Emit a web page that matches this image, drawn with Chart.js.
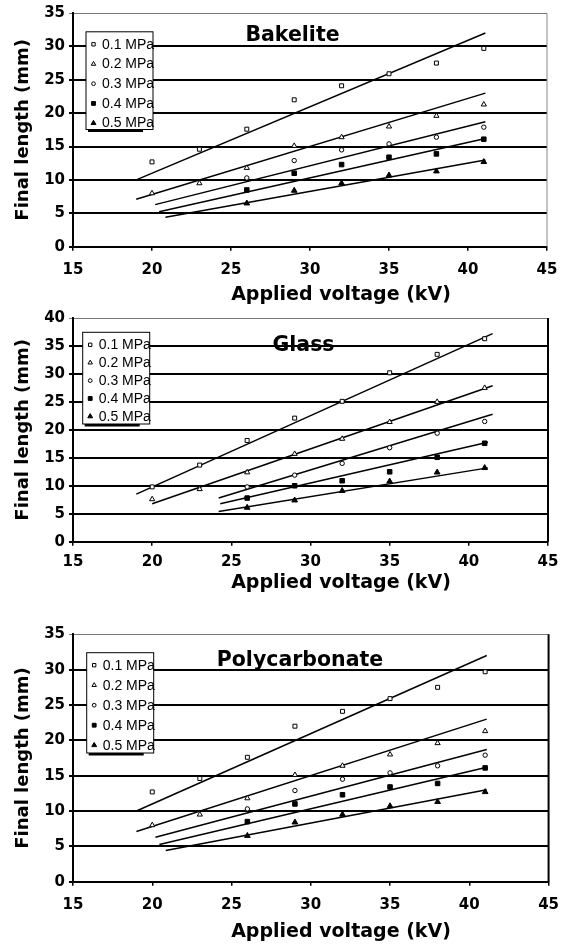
<!DOCTYPE html>
<html>
<head>
<meta charset="utf-8">
<script src="https://cdn.jsdelivr.net/npm/chart.js@4.4.1/dist/chart.umd.min.js"></script>
<style>
  html, body { margin: 0; padding: 0; background: #fff; }
  .box { position: absolute; left: 0; width: 569px; }
</style>
</head>
<body>
<div class="box" style="top:0;height:305px"><canvas id="bakelite"></canvas></div>
<div class="box" style="top:305px;height:295px"><canvas id="glass"></canvas></div>
<div class="box" style="top:610px;height:335px"><canvas id="poly"></canvas></div>
<script>
// voltages (kV)
const voltsAll = [20, 23, 26, 29, 32, 35, 38, 41];
const voltsHigh = [26, 29, 32, 35, 38, 41];
const pressureLabels = ['0.1 MPa', '0.2 MPa', '0.3 MPa', '0.4 MPa', '0.5 MPa'];

// Bakelite final length (mm)
const bake01 = [12.7, 14.6, 17.6, 22.0, 24.1, 25.9, 27.5, 29.7];
const bake02 = [8.0, 9.5, 11.8, 15.1, 16.4, 18.0, 19.6, 21.3];
const bake03 = [10.3, 12.9, 14.5, 15.4, 16.4, 17.9];
const bake04 = [8.5, 11.0, 12.3, 13.4, 13.9, 16.1];
const bake05 = [6.5, 8.4, 9.5, 10.7, 11.3, 12.7];
const bakeTrendX = [[19, 41.1], [19, 41.1], [20.2, 41.1], [20.45, 41.1], [20.85, 41.1]];
const bakeTrendY = [[10.0, 32.0], [7.1, 23.0], [6.3, 18.7], [5.25, 16.2], [4.4, 13.0]];

// Glass final length (mm)
const glass01 = [9.8, 13.7, 18.1, 22.1, 25.1, 30.2, 33.5, 36.3];
const glass02 = [7.6, 9.4, 12.4, 15.7, 18.4, 21.4, 25.0, 27.5];
const glass03 = [9.8, 11.9, 14.0, 16.8, 19.4, 21.5];
const glass04 = [7.8, 10.0, 10.9, 12.5, 15.1, 17.6];
const glass05 = [6.1, 7.4, 9.1, 10.8, 12.4, 13.2];
const glassTrendX = [[19, 41.5], [20, 41.5], [24.2, 41.5], [24.3, 41.2], [24.2, 41.2]];
const glassTrendY = [[8.5, 37.2], [6.8, 27.9], [7.8, 22.8], [6.8, 17.8], [5.4, 13.2]];

// Polycarbonate final length (mm)
const poly01 = [12.7, 14.6, 17.6, 22.0, 24.1, 25.9, 27.5, 29.7];
const poly02 = [8.0, 9.5, 11.8, 15.1, 16.4, 18.0, 19.6, 21.3];
const poly03 = [10.3, 12.9, 14.5, 15.4, 16.4, 17.9];
const poly04 = [8.5, 11.0, 12.3, 13.4, 13.9, 16.1];
const poly05 = [6.5, 8.4, 9.5, 10.7, 11.3, 12.7];
const polyTrendX = [[19, 41.1], [19, 41.1], [20.2, 41.1], [20.45, 41.1], [20.85, 41.1]];
const polyTrendY = [[10.0, 32.0], [7.1, 23.0], [6.3, 18.7], [5.25, 16.2], [4.4, 13.0]];

const xTicks = { min: 15, max: 45, step: 5 };

// marker look per pressure
const markers = [
  { pointStyle: 'rect', radius: 2.8, fill: '#fff' },
  { pointStyle: 'triangle', radius: 3, fill: '#fff' },
  { pointStyle: 'circle', radius: 2.2, fill: '#fff' },
  { pointStyle: 'rect', radius: 3.2, fill: '#000' },
  { pointStyle: 'triangle', radius: 3.3, fill: '#000' }
];

const pair = (xs, ys) => xs.map((x, i) => ({ x: x, y: ys[i] }));

function buildDatasets(series, trendX, trendY) {
  const sets = [];
  series.forEach((s, i) => {
    sets.push({
      label: pressureLabels[i],
      data: pair(s.x, s.y),
      pointStyle: markers[i].pointStyle,
      pointRadius: markers[i].radius,
      pointBackgroundColor: markers[i].fill,
      pointBorderColor: '#000',
      pointBorderWidth: 1,
      showLine: false,
      isMarker: true
    });
  });
  trendX.forEach((xs, i) => {
    sets.push({
      label: 'trend ' + pressureLabels[i],
      data: pair(xs, trendY[i]),
      showLine: true,
      borderColor: '#000',
      borderWidth: 1.5,
      pointRadius: 0
    });
  });
  return sets;
}

const decor = {
  id: 'decor',
  afterDatasetsDraw(chart, args, o) {
    const { ctx, chartArea: a } = chart;
    ctx.save();
    // right frame
    ctx.strokeStyle = o.frameColor;
    ctx.lineWidth = o.frameWidth;
    ctx.beginPath();
    ctx.moveTo(a.right, a.top);
    ctx.lineTo(a.right, a.bottom);
    ctx.stroke();

    // material name
    ctx.fillStyle = '#000';
    ctx.textAlign = 'center';
    ctx.textBaseline = 'alphabetic';
    ctx.font = 'bold 20.5px "DejaVu Sans"';
    ctx.fillText(o.name, a.left + o.nameX, a.top + o.nameY);

    // x axis title
    ctx.font = 'bold 19px "DejaVu Sans"';
    ctx.fillText('Applied voltage (kV)', a.left + 268, a.bottom + o.xTitleY);

    // legend box
    const lx = a.left + o.legX, ly = a.top + o.legY, lw = 67, lh = o.legH;
    ctx.fillStyle = '#000';
    ctx.fillRect(lx + 2, ly + lh, lw - 12, 2.5);
    ctx.fillStyle = '#fff';
    ctx.fillRect(lx, ly, lw, lh);
    ctx.strokeStyle = '#000';
    ctx.lineWidth = 1;
    ctx.strokeRect(lx, ly, lw, lh);
    ctx.font = '14px "Liberation Sans"';
    ctx.textAlign = 'left';
    ctx.textBaseline = 'middle';
    chart.data.datasets.filter(d => d.isMarker).forEach((d, i) => {
      const yy = ly + 12.5 + i * o.legStep;
      ctx.fillStyle = d.pointBackgroundColor;
      ctx.strokeStyle = '#000';
      ctx.lineWidth = 1;
      Chart.helpers.drawPoint(ctx, {
        pointStyle: d.pointStyle, radius: d.pointRadius * 0.85, rotation: 0, borderWidth: 1
      }, lx + 7.5, yy);
      ctx.fillStyle = '#000';
      ctx.fillText(d.label, lx + 16, yy + 0.5);
    });
    ctx.restore();
  }
};

function makeChart(id, datasets, yMax, p) {
  new Chart(document.getElementById(id), {
    type: 'scatter',
    data: { datasets: datasets },
    plugins: [decor],
    options: {
      responsive: true,
      maintainAspectRatio: false,
      animation: false,
      layout: { padding: { top: p.top, right: p.right, left: 0, bottom: 0 } },
      plugins: {
        legend: { display: false },
        tooltip: { enabled: false },
        decor: p.decor
      },
      scales: {
        x: {
          type: 'linear',
          min: xTicks.min, max: xTicks.max,
          afterFit: s => { s.height = p.xHeight; },
          ticks: {
            stepSize: xTicks.step, color: '#000', padding: p.xPad,
            font: { family: '"DejaVu Sans"', weight: 'bold', size: 15 }
          },
          grid: { drawOnChartArea: false, color: '#000', lineWidth: 1.5, tickLength: 4 },
          border: { display: true, color: '#000', width: 2 }
        },
        y: {
          min: 0, max: yMax,
          afterFit: s => { s.width = 73; },
          ticks: {
            stepSize: 5, color: '#000', padding: 4,
            font: { family: '"DejaVu Sans"', weight: 'bold', size: 15 }
          },
          grid: {
            color: c => (c.tick && c.tick.value === yMax) ? '#777' : '#000',
            lineWidth: c => (c.tick && c.tick.value === yMax) ? 1 : 2,
            tickLength: 4
          },
          border: { display: true, color: '#000', width: 2 },
          title: {
            display: true, text: 'Final length (mm)', color: '#000',
            padding: { top: 13, bottom: 0 },
            font: { family: '"DejaVu Sans"', weight: 'bold', size: 18 }
          }
        }
      }
    }
  });
}

makeChart('bakelite', buildDatasets([
  { x: voltsAll, y: bake01 }, { x: voltsAll, y: bake02 }, { x: voltsHigh, y: bake03 },
  { x: voltsHigh, y: bake04 }, { x: voltsHigh, y: bake05 }
], bakeTrendX, bakeTrendY), 35, {
  top: 8, right: 22, xHeight: 58.3, xPad: 10,
  decor: { name: 'Bakelite', nameX: 219.5, nameY: 28.2, xTitleY: 53.3,
    legX: 13, legY: 18.8, legH: 97.7, legStep: 19.7, frameColor: '#888', frameWidth: 1 }
});

makeChart('glass', buildDatasets([
  { x: voltsAll, y: glass01 }, { x: voltsAll, y: glass02 }, { x: voltsHigh, y: glass03 },
  { x: voltsHigh, y: glass04 }, { x: voltsHigh, y: glass05 }
], glassTrendX, glassTrendY), 40, {
  top: 10, right: 21, xHeight: 58.3, xPad: 7,
  decor: { name: 'Glass', nameX: 230.5, nameY: 32.7, xTitleY: 46,
    legX: 9.7, legY: 14.3, legH: 91.7, legStep: 17.9, frameColor: '#000', frameWidth: 2 }
});

makeChart('poly', buildDatasets([
  { x: voltsAll, y: poly01 }, { x: voltsAll, y: poly02 }, { x: voltsHigh, y: poly03 },
  { x: voltsHigh, y: poly04 }, { x: voltsHigh, y: poly05 }
], polyTrendX, polyTrendY), 35, {
  top: 24.3, right: 19, xHeight: 63.3, xPad: 10,
  decor: { name: 'Polycarbonate', nameX: 227, nameY: 31.7, xTitleY: 55,
    legX: 13.7, legY: 18.4, legH: 100.3, legStep: 20, frameColor: '#000', frameWidth: 2 }
});
</script>
</body>
</html>
